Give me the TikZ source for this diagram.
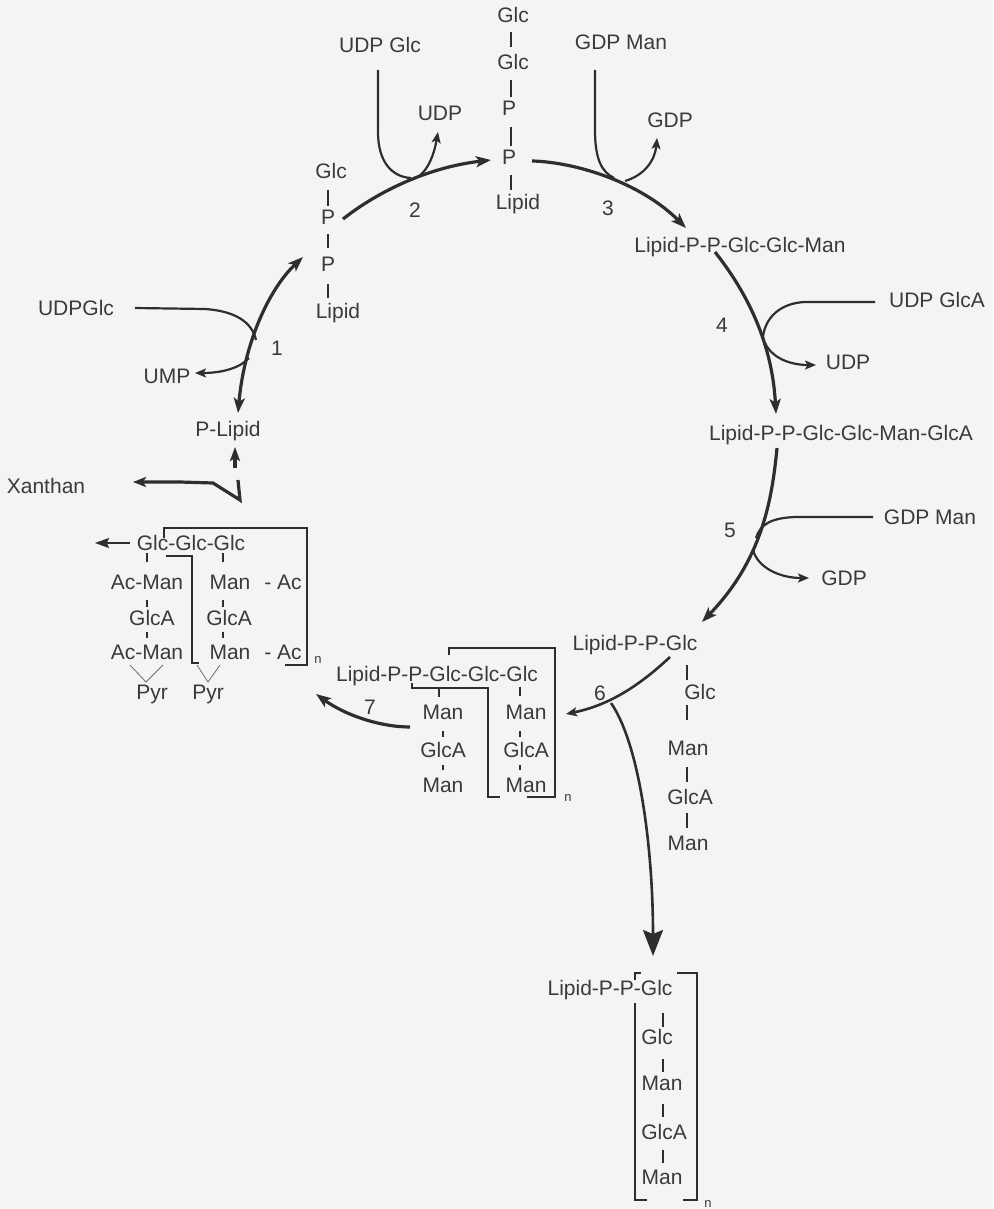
\documentclass[tikz,border=0pt]{standalone}
\usepackage{fontspec}
\setmainfont{Liberation Sans}
\usetikzlibrary{arrows.meta}
\definecolor{ink}{HTML}{2E2E2E}
\definecolor{txt}{HTML}{3A3A3A}
\definecolor{bg}{HTML}{F4F4F2}
\begin{document}
\begin{tikzpicture}[x=1pt,y=-1pt,
  lab/.style={text=txt,font=\fontsize{21}{24}\selectfont,inner sep=0pt},
  sml/.style={text=txt,font=\fontsize{13}{15}\selectfont,inner sep=0pt},
  main/.style={draw=ink,line width=3.2pt},
  side/.style={draw=ink,line width=2.2pt},
  thin/.style={draw=ink,line width=1.2pt},
  tipm/.style={-{Stealth[length=15pt,width=11pt,inset=3.5pt]}},
  tips/.style={-{Stealth[length=11pt,width=9pt,inset=2.5pt]}},
  tipb/.style={-{Stealth[length=26pt,width=20pt,inset=4pt]}},
  bond/.style={draw=ink,line width=1.2pt},
  brk/.style={draw=ink,line width=1.8pt},
  pyr/.style={draw=ink!70,line width=0.8pt},
]
\fill[bg] (0,0) rectangle (993,1209);

% ---------- labels ----------
\node[lab] (udpglcA) at (76,308) {UDPGlc};
\node[lab] (ump) at (167,376) {UMP};
\node[lab] (r1) at (277,348) {1};
\node[lab] (plipid) at (228,431) {P-Lipid};
\node[lab] (xanthan) at (46,486) {Xanthan};
% stack A
\node[lab] (aglc) at (331,171) {Glc};
\node[lab] (ap1) at (328,217) {P};
\node[lab] (ap2) at (328,264) {P};
\node[lab] (alip) at (338,313) {Lipid};
\draw[bond] (328,190) -- (328,206);
\draw[bond] (328,234) -- (328,248);
\draw[bond] (328,284) -- (328,298);
% step 2
\node[lab] (udpglcB) at (380,45) {UDP Glc};
\node[lab] (udpA) at (440,113) {UDP};
\node[lab] (r2) at (415,210) {2};
% stack B
\node[lab] (bglc1) at (513,15) {Glc};
\node[lab] (bglc2) at (513,62) {Glc};
\node[lab] (bp1) at (509,108) {P};
\node[lab] (bp2) at (509,157) {P};
\node[lab] (blip) at (518,204) {Lipid};
\draw[bond] (511,32) -- (511,47);
\draw[bond] (511,80) -- (511,97);
\draw[bond] (511,127) -- (511,146);
\draw[bond] (511,175) -- (511,190);
% step 3
\node[lab] (gdpmanA) at (621,42) {GDP Man};
\node[lab] (gdpA) at (670,120) {GDP};
\node[lab] (r3) at (608,208) {3};
\node[lab] (lpp3) at (740,247) {Lipid-P-P-Glc-Glc-Man};
% step 4
\node[lab] (udpglca) at (937,300) {UDP GlcA};
\node[lab] (udpB) at (848,362) {UDP};
\node[lab] (r4) at (722,325) {4};
\node[lab] (lpp4) at (841,435) {Lipid-P-P-Glc-Glc-Man-GlcA};
% step 5
\node[lab] (gdpmanB) at (930,517) {GDP Man};
\node[lab] (gdpB) at (844,578) {GDP};
\node[lab] (r5) at (730,530) {5};
\node[lab] (lpp5) at (635,645) {Lipid-P-P-Glc};
\node[lab] (cglc) at (700,692) {Glc};
\node[lab] (cman1) at (688,748) {Man};
\node[lab] (cglca) at (690,797) {GlcA};
\node[lab] (cman2) at (688,843) {Man};
\draw[bond] (687,665) -- (687,680);
\draw[bond] (687,705) -- (687,720);
\draw[bond] (687,767) -- (687,782);
\draw[bond] (687,813) -- (687,828);
% step 6
\node[lab] (r6) at (600,693) {6};
% structure after 7
\node[lab] (lpp7) at (437,676) {Lipid-P-P-Glc-Glc-Glc};
\node[lab] (dman1) at (443,712) {Man};
\node[lab] (dglca) at (443,750) {GlcA};
\node[lab] (dman2) at (443,785) {Man};
\node[lab] (eman1) at (526,712) {Man};
\node[lab] (eglca) at (526,750) {GlcA};
\node[lab] (eman2) at (526,785) {Man};
\node[sml] (n7) at (568,798) {n};
\draw[bond] (439,687) -- (439,697);
\draw[bond] (443,731) -- (443,737);
\draw[bond] (443,765) -- (443,770);
\draw[bond] (520,687) -- (520,696);
\draw[bond] (520,731) -- (520,737);
\draw[bond] (520,765) -- (520,770);
\draw[brk] (449,655) -- (449,648) -- (555,648) -- (555,797) -- (527,797);
\draw[brk] (412,683) -- (412,688) -- (488,688) -- (488,797) -- (500,797);
\node[lab] (r7) at (370,707) {7};
% xanthan structure
\node[lab] (xggg) at (191,543) {Glc-Glc-Glc};
\node[lab] (xacman1) at (147,582) {Ac-Man};
\node[lab] (xglca1) at (152,618) {GlcA};
\node[lab] (xacman2) at (147,652) {Ac-Man};
\node[lab] (xman1) at (230,582) {Man};
\node[lab] (xac1) at (283,582) {- Ac};
\node[lab] (xglca2) at (229,618) {GlcA};
\node[lab] (xman2) at (230,652) {Man};
\node[lab] (xac2) at (283,652) {- Ac};
\node[lab] (xpyr1) at (152,694) {Pyr};
\node[lab] (xpyr2) at (208,694) {Pyr};
\node[sml] (xn) at (318,660) {n};
\draw[bond] (147,553) -- (147,562);
\draw[bond] (147,600) -- (147,607);
\draw[bond] (147,632) -- (147,638);
\draw[bond] (223,553) -- (223,562);
\draw[bond] (223,600) -- (223,607);
\draw[bond] (223,632) -- (223,638);
\draw[brk] (164,538) -- (164,528) -- (307,528) -- (307,665) -- (285,665);
\draw[brk] (166,556) -- (192,556) -- (192,663) -- (199,663);
\draw[pyr] (130,665) -- (146,682) -- (163,665);
\draw[pyr] (197,665) -- (208,682) -- (220,665);
\coordinate (xout) at (130,543);
\draw[thin,-{Stealth[length=14pt,width=10pt,inset=2pt]}] (xout) -- (95,543);
% bottom structure
\node[lab] (flpp) at (610,990) {Lipid-P-P-Glc};
\node[lab] (fglc) at (657,1037) {Glc};
\node[lab] (fman1) at (662,1083) {Man};
\node[lab] (fglca) at (664,1132) {GlcA};
\node[lab] (fman2) at (662,1177) {Man};
\node[sml] (fn) at (708,1204) {n};
\draw[bond] (663,1013) -- (663,1027);
\draw[bond] (663,1059) -- (663,1072);
\draw[bond] (663,1104) -- (663,1117);
\draw[bond] (663,1150) -- (663,1163);
\draw[brk] (635,980) -- (635,973) -- (641,973);
\draw[brk] (635,1003) -- (635,1200) -- (647,1200);
\draw[brk] (677,973) -- (697,973) -- (697,1200) -- (683,1200);

% ---------- reaction arrows ----------
% 1
\coordinate (s1) at (238,413);
\coordinate (e1) at (303,257);
\draw[main,{Stealth[length=15pt,width=11pt,inset=3.5pt]}-{Stealth[length=15pt,width=11pt,inset=3.5pt]}]
  (s1) .. controls (244,345) and (268,290) .. (e1);
\coordinate (in1) at (135,308);
\draw[side] (in1) -- (205,309) .. controls (235,311) and (252,322) .. (256,340);
\coordinate (o1) at (249,358);
\draw[side,tips] (o1) .. controls (240,368) and (222,373) .. (195,373);
% 2
\coordinate (s2) at (343,219);
\coordinate (e2) at (491,160);
\draw[main,tipm] (s2) .. controls (380,190) and (430,167) .. (e2);
\coordinate (in2) at (378,70);
\draw[side] (in2) -- (378,132) .. controls (378,162) and (392,177) .. (411,178);
\coordinate (o2) at (418,177);
\draw[side,tips] (o2) .. controls (428,170) and (434,155) .. (438,132);
% 3
\coordinate (s3) at (532,161);
\coordinate (e3) at (686,228);
\draw[main,tipm] (s3) .. controls (575,162) and (640,182) .. (e3);
\coordinate (in3) at (595,70);
\draw[side] (in3) -- (595,130) .. controls (595,160) and (602,172) .. (614,178);
\coordinate (o3) at (625,181);
\draw[side,tips] (o3) .. controls (645,175) and (655,160) .. (657,138);
% 4
\coordinate (s4) at (715,252);
\coordinate (e4) at (776,414);
\draw[main,tipm] (s4) .. controls (745,290) and (772,340) .. (e4);
\coordinate (in4) at (875,302);
\draw[side] (in4) -- (805,302) .. controls (780,303) and (765,318) .. (763,337);
\coordinate (o4) at (765,343);
\draw[side,tips] (o4) .. controls (772,358) and (790,365) .. (816,365);
% 5
\coordinate (s5) at (777,448);
\coordinate (e5) at (702,622);
\draw[main,tipm] (s5) .. controls (772,500) and (762,560) .. (e5);
\coordinate (in5) at (873,517);
\draw[side] (in5) -- (795,517) .. controls (770,518) and (760,525) .. (756,538);
\coordinate (o5) at (753,550);
\draw[side,tips] (o5) .. controls (758,568) and (780,578) .. (809,578);
% 6
\coordinate (s6) at (670,657);
\coordinate (j6) at (611,703);
\draw[side,line width=2.6pt,tips] (s6) .. controls (640,685) and (610,705) .. (566,714);
\draw[side,line width=2.6pt,tipb] (j6) .. controls (640,745) and (653,850) .. (653,956);
% 7
\coordinate (s7) at (410,727);
\draw[main,tipm] (s7) .. controls (380,727) and (345,715) .. (316,694);
% release
\coordinate (rel) at (240,500);
\draw[main,-{Stealth[length=14pt,width=10pt,inset=3pt]}] (235,468) -- (235,447);
\draw[main,line join=miter,-{Stealth[length=13pt,width=10pt,inset=3pt]}]
  (238,480) -- (rel) -- (213,483) -- (180,482) -- (133,482);
\end{tikzpicture}
\end{document}
